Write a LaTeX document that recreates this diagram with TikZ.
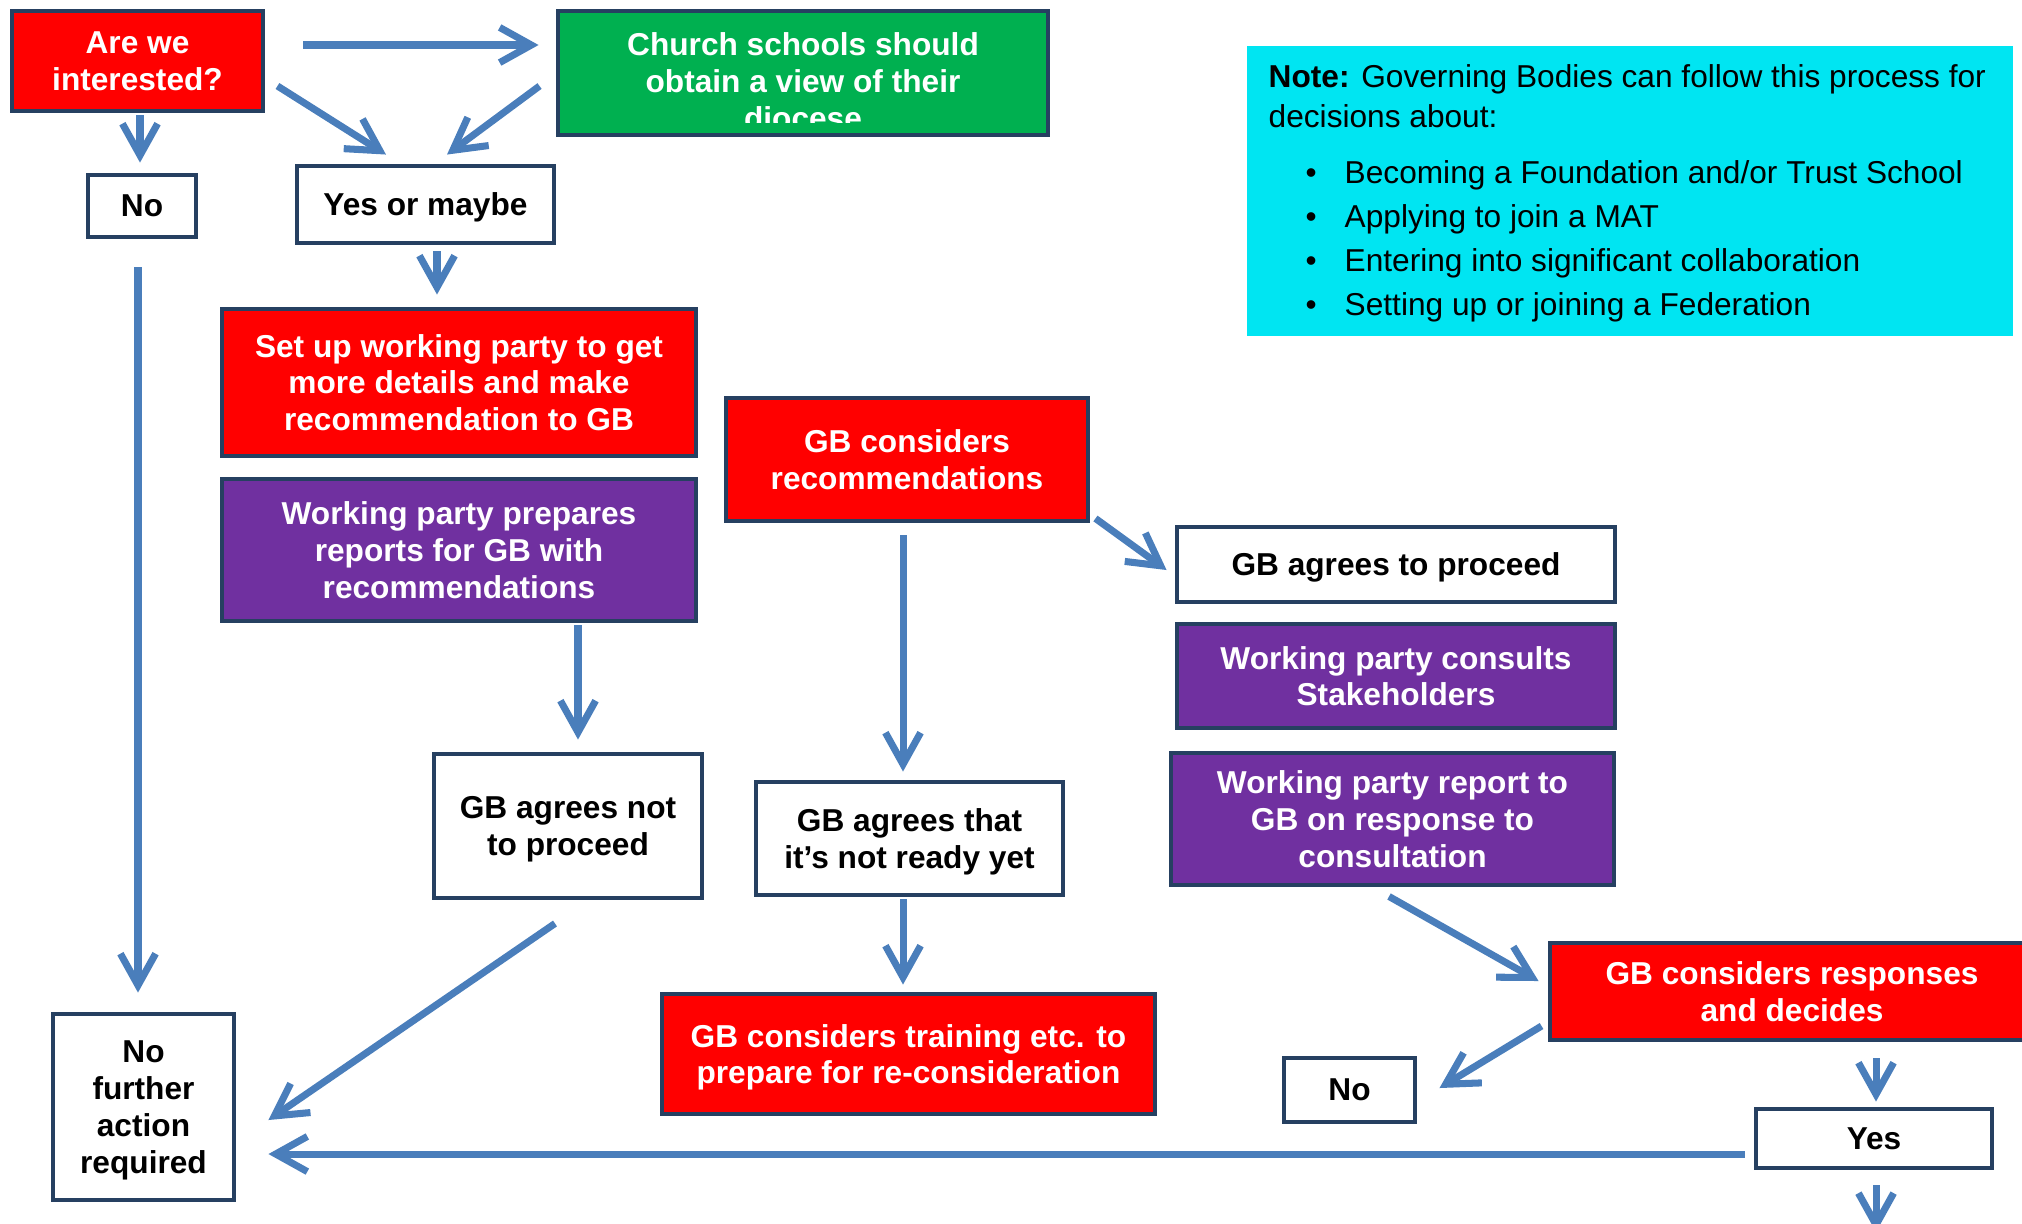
\documentclass[tikz,border=0pt]{standalone}
\usepackage{fontspec}
\setmainfont{Liberation Sans}
\usetikzlibrary{arrows.meta}
\definecolor{boxred}{RGB}{255,0,0}
\definecolor{boxgreen}{RGB}{0,176,80}
\definecolor{boxpurple}{RGB}{112,48,160}
\definecolor{notecyan}{RGB}{0,229,242}
\definecolor{edge}{RGB}{38,64,97}
\definecolor{flowblue}{RGB}{74,126,187}
\tikzset{
  box/.style={draw=edge, line width=1.4pt, align=center, inner sep=2pt, text depth=0pt,
    font=\fontsize{9}{10.5}\selectfont\bfseries},
  boxwh/.style 2 args={minimum width=#1*0.01cm, minimum height=#2*0.01cm},
  redbox/.style={box, fill=boxred, text=white},
  greenbox/.style={box, fill=boxgreen, text=white},
  purplebox/.style={box, fill=boxpurple, text=white},
  whitebox/.style={box, fill=white, text=black},
  flow/.style={draw=flowblue, line width=2pt, -{Straight Barb[length=9pt,width=10pt]}},
  notetext/.style={anchor=base west, inner sep=0pt, font=\fontsize{9}{11}\selectfont},
}
\begin{document}
\begin{tikzpicture}[x=0.01cm, y=-0.01cm]
\useasboundingbox (0,0) rectangle (2022,1223);
% boxes
\node[redbox, boxwh={251}{100}] (interested) at (137.5,61) {Are we\\interested?};
\node[greenbox, boxwh={490}{124}] (church) at (803,73) {};
\begin{scope}
  \clip (560,13) rectangle (1046,122);
  \node[box, draw=none, text=white, inner sep=0pt, anchor=north] (churchtext) at (803,30)
    {Church schools should\\obtain a view of their\\diocese};
\end{scope}
\node[whitebox, boxwh={108}{62}] (notop) at (142,206) {No};
\node[whitebox, boxwh={257}{77}] (yesmaybe) at (425.5,204.5) {Yes or maybe};
\node[redbox, boxwh={474}{147}] (setup) at (459,382.5) {Set up working party to get\\more details and make\\recommendation to GB};
\node[purplebox, boxwh={474}{142}] (prepares) at (459,550) {Working party prepares\\reports for GB with\\recommendations};
\node[redbox, boxwh={362}{123}] (considers) at (907,459.5) {GB considers\\recommendations};
\node[whitebox, boxwh={438}{75}] (proceed) at (1396,564.5) {GB agrees to proceed};
\node[purplebox, boxwh={438}{104}] (consults) at (1396,676) {Working party consults\\Stakeholders};
\node[purplebox, boxwh={443}{132}] (report) at (1392.5,819) {Working party report to\\GB on response to\\consultation};
\node[redbox, boxwh={484}{97}] (responses) at (1792,991.5) {GB considers responses\\and decides};
\node[whitebox, boxwh={131}{64}] (nobottom) at (1349.5,1090) {No};
\node[whitebox, boxwh={236}{59}] (yes) at (1874,1138.5) {Yes};
\node[whitebox, boxwh={268}{144}] (notproceed) at (568,826) {GB agrees not\\to proceed};
\node[whitebox, boxwh={307}{113}] (notready) at (909.5,838.5) {GB agrees that\\it’s not ready yet};
\node[redbox, boxwh={493}{120}] (training) at (908.5,1054) {GB considers training etc. to\\prepare for re-consideration};
\node[whitebox, boxwh={181}{186}] (nofurther) at (143.5,1107) {No\\further\\action\\required};
% note
\node[fill=notecyan, inner sep=0pt, boxwh={766}{290}] (note) at (1630,191) {};
\node[notetext] (notehead) at (1268,87) {\textbf{Note:} Governing Bodies can follow this process for};
\node[notetext] (notehead2) at (1268,127) {decisions about:};
\foreach \entry [count=\i] in {Becoming a Foundation and/or Trust School,Applying to join a MAT,Entering into significant collaboration,Setting up or joining a Federation}{
  \node[notetext] (dot\i) at (1305,139+44*\i) {•};
  \node[notetext] (entry\i) at (1344,139+44*\i) {\entry};
}
% arrows
\draw[flow] ([shift={(2.5,2)}]interested.south) -- ([shift={(-2,-10)}]notop.north);
\draw[flow] ([shift={(38,-16)}]interested.east) -- ([shift={(-17,-28)}]church.west);
\draw[flow] ([shift={(12,25)}]interested.east) -- ([shift={(-39.5,-9)}]yesmaybe.north);
\draw[flow] ([shift={(-16,13)}]church.west) -- ([shift={(21.5,-9)}]yesmaybe.north);
\draw[flow] ([shift={(11.5,6)}]yesmaybe.south) -- ([shift={(-22,-12)}]setup.north);
\draw[flow] ([shift={(-4,28)}]notop.south) -- ([shift={(-5.5,-19)}]nofurther.north);
\draw[flow] ([shift={(119,2)}]prepares.south) -- ([shift={(10,-12)}]notproceed.north);
\draw[flow] ([shift={(-4,12)}]considers.south) -- ([shift={(-6.5,-8)}]notready.north);
\draw[flow] ([shift={(-6.5,2)}]notready.south) -- ([shift={(-5.5,-7)}]training.north);
\draw[flow] ([shift={(-13,23)}]notproceed.south) -- ([shift={(32,13)}]nofurther.east);
\draw[flow] ([shift={(-9,15.5)}]yes.west) -- ([shift={(32,47)}]nofurther.east);
\draw[flow] ([shift={(5,-5)}]considers.south east) -- ([shift={(-8,5.5)}]proceed.west);
\draw[flow] ([shift={(-3.5,9)}]report.south) -- ([shift={(-9,-10.5)}]responses.west);
\draw[flow] ([shift={(-6,34.5)}]responses.west) -- ([shift={(22,-2)}]nobottom.east);
\draw[flow] ([shift={(84,16)}]responses.south) -- ([shift={(2,-5)}]yes.north);
\coordinate (below) at (1876,1232);
\draw[flow] ([shift={(2,15)}]yes.south) -- (below);
\end{tikzpicture}
\end{document}
